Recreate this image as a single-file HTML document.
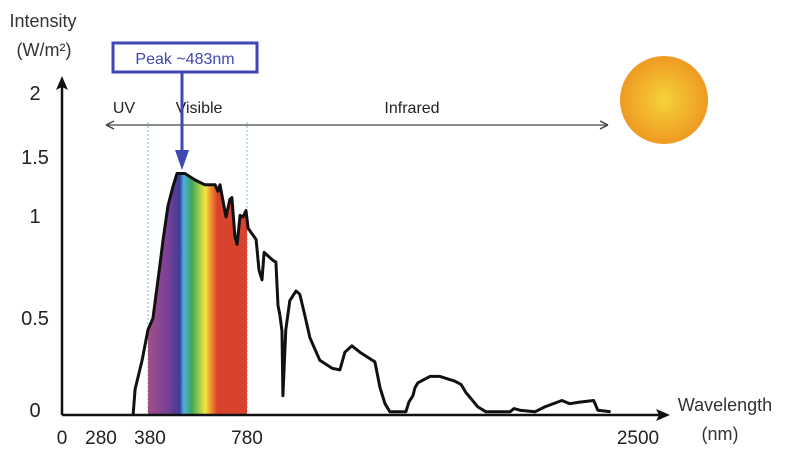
<!DOCTYPE html>
<html><head><meta charset="utf-8">
<style>
html,body{margin:0;padding:0;background:#fff;}
svg{display:block;font-family:"Liberation Sans",sans-serif;}
</style></head>
<body>
<svg id="chart" width="808" height="473" viewBox="0 0 808 473" xmlns="http://www.w3.org/2000/svg">
<defs>
<linearGradient id="rainbow" x1="148" y1="0" x2="247" y2="0" gradientUnits="userSpaceOnUse">
<stop offset="0" stop-color="#a05088"/>
<stop offset="0.2" stop-color="#7a3f98"/>
<stop offset="0.32" stop-color="#3e3b96"/>
<stop offset="0.36" stop-color="#4aaee6"/>
<stop offset="0.44" stop-color="#3fa65a"/>
<stop offset="0.58" stop-color="#f2e640"/>
<stop offset="0.64" stop-color="#f08a30"/>
<stop offset="0.7" stop-color="#d8432e"/>
<stop offset="1" stop-color="#d8432e"/>
</linearGradient>
<radialGradient id="sun" cx="0.5" cy="0.5" r="0.5">
<stop offset="0" stop-color="#f6d23a"/>
<stop offset="1" stop-color="#ee9a22"/>
</radialGradient>
<clipPath id="visClip"><rect x="148" y="0" width="99" height="415"/></clipPath>
</defs>
<g id="plot"></g>
</svg>
<script>
const wavelengths=[314,323,354,380,400,428,441,461,481,497,529,570,610,651,663,671,695,711,719,731,740,752,764,776,785,823,837,851,861,903,917,927,936,946,950,964,983,1012,1030,1054,1078,1125,1183,1220,1244,1277,1315,1386,1410,1434,1457,1533,1547,1566,1576,1590,1647,1694,1765,1794,1817,1836,1874,1912,2026,2045,2073,2144,2191,2272,2309,2357,2423,2442,2503];
const intensity=[0,0.16,0.34,0.53,0.60,0.93,1.09,1.30,1.42,1.50,1.50,1.46,1.43,1.43,1.39,1.43,1.23,1.34,1.35,1.11,1.06,1.24,1.23,1.27,1.16,1.09,0.90,0.84,1.01,0.96,0.95,0.68,0.62,0.52,0.12,0.53,0.71,0.77,0.75,0.62,0.48,0.34,0.29,0.28,0.39,0.43,0.39,0.33,0.17,0.07,0.02,0.02,0.08,0.12,0.17,0.20,0.24,0.24,0.21,0.19,0.14,0.11,0.05,0.02,0.02,0.04,0.03,0.02,0.05,0.09,0.07,0.08,0.09,0.03,0.02];
const yTickValues=[0,0.5,1,1.5,2];
const yTickLabels=["0","0.5","1","1.5","2"];
const xTickValues=[0,280,380,780,2500];
const xTickLabels=["0","280","380","780","2500"];

function xScale(nm){
  if(nm<=380) return 62+nm/380*86;
  if(nm<=780) return 148+(nm-380)/400*99;
  return 247+(nm-780)/1720*363;
}
function yScale(v){return 415-v*161;}
function yLabelScale(v){
  const a=[[0,410],[0.5,318],[1,216],[1.5,157],[2,93]];
  for(let i=1;i<a.length;i++){if(v<=a[i][0]){const t=(v-a[i-1][0])/(a[i][0]-a[i-1][0]);return a[i-1][1]+t*(a[i][1]-a[i-1][1]);}}
  return a[a.length-1][1];
}
function xLabelScale(nm){
  if(nm===2500) return 638;
  if(nm===280) return 101;
  if(nm===380) return 150;
  return xScale(nm);
}
const NS="http://www.w3.org/2000/svg";
const g=document.getElementById('plot');
function mk(tag,attrs,parent){const e=document.createElementNS(NS,tag);for(const k in attrs)e.setAttribute(k,attrs[k]);(parent||g).appendChild(e);return e;}

// sun
const sun=mk('circle',{cx:664,cy:100,r:44,fill:'url(#sun)'});



// region dashed lines
[380,780].forEach(nm=>{
  const l=mk('line',{x1:xScale(nm),y1:122,x2:xScale(nm),y2:415,stroke:'#8cc4e0','stroke-width':1.2,'stroke-dasharray':'2,2'});
  
  
});

// curve path
let d='';
for(let i=0;i<wavelengths.length;i++){d+=(i?'L':'M')+xScale(wavelengths[i]).toFixed(1)+','+yScale(intensity[i]).toFixed(1);}
const fill=mk('path',{d:d+'L'+xScale(wavelengths[wavelengths.length-1])+',415L'+xScale(wavelengths[0])+',415Z',fill:'url(#rainbow)','clip-path':'url(#visClip)'});


const curve=mk('path',{d:d,fill:'none',stroke:'#111','stroke-width':3,'stroke-linejoin':'round'});



// axes
const xa=mk('line',{x1:62,y1:415,x2:662,y2:415,stroke:'#111','stroke-width':2.5});


const xah=mk('path',{d:'M670,415L656,409L659,415L656,421Z',fill:'#111'});


const ya=mk('line',{x1:62,y1:415,x2:62,y2:84,stroke:'#111','stroke-width':2.5});


const yah=mk('path',{d:'M62,76L56,90L62,87L68,90Z',fill:'#111'});



yTickValues.forEach((v,i)=>{
  const t=mk('text',{x:35,y:yLabelScale(v)+7,'font-size':20,'text-anchor':'middle',fill:'#222'});
  t.textContent=yTickLabels[i];
  
  
});
xTickValues.forEach((v,i)=>{
  const t=mk('text',{x:xLabelScale(v),y:444,'font-size':19,'text-anchor':'middle',fill:'#222'});
  t.textContent=xTickLabels[i];
  
  
});

// region double arrow
const ra=mk('line',{x1:108,y1:125,x2:606,y2:125,stroke:'#444','stroke-width':1.3});


const ral=mk('path',{d:'M106,125l8,-4M106,125l8,4M608,125l-8,-4M608,125l-8,4',stroke:'#444','stroke-width':1.5,fill:'none'});


[['UV',124,'uv-label'],['Visible',199,'visible-label'],['Infrared',412,'infrared-label']].forEach(r=>{
  const t=mk('text',{x:r[1],y:113,'font-size':16,'text-anchor':'middle',fill:'#222'});
  t.textContent=r[0];
  
  
});

// titles
const yt1=mk('text',{x:43,y:27,'font-size':18,'text-anchor':'middle',fill:'#333'});
yt1.textContent='Intensity';


const yt2=mk('text',{x:44,y:56,'font-size':18,'text-anchor':'middle',fill:'#333'});
yt2.textContent='(W/m²)';


const xt1=mk('text',{x:725,y:411,'font-size':18,'text-anchor':'middle',fill:'#333'});
xt1.textContent='Wavelength';


const xt2=mk('text',{x:720,y:440,'font-size':18,'text-anchor':'middle',fill:'#333'});
xt2.textContent='(nm)';



// peak annotation
const pb=mk('rect',{x:113,y:43,width:144,height:29,fill:'#fff',stroke:'#3f48b0','stroke-width':3});


const pt=mk('text',{x:185,y:64,'font-size':16,'text-anchor':'middle',fill:'#3f48b0'});
pt.textContent='Peak ~483nm';


const pl=mk('line',{x1:182,y1:72,x2:182,y2:158,stroke:'#3f48b0','stroke-width':3});


const ph=mk('path',{d:'M175,150L189,150L182,170Z',fill:'#3f48b0'});


</script>
</body></html>
